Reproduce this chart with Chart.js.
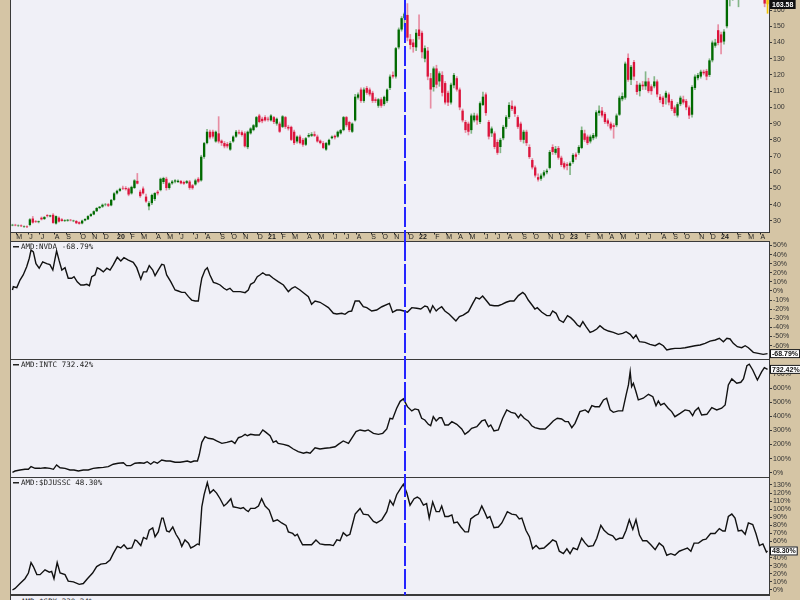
<!DOCTYPE html>
<html>
<head>
<meta charset="utf-8">
<title>AMD weekly with ratio panels</title>
<script src="https://cdn.jsdelivr.net/npm/chart.js@4.4.1/dist/chart.umd.min.js"></script>
<style>
  html, body { margin: 0; padding: 0; background: #d5c5a5; overflow: hidden; }
  #wrap { position: relative; width: 800px; height: 600px; }
  .pane { position: absolute; left: 0; width: 800px; }
  .pane canvas { display: block; }
  #spxPane {
    position: absolute; left: 10px; top: 595px; width: 759px; height: 5px;
    background: #f0f0f7; border-top: 1px solid #3a3a3a; border-left: 1px solid #3a3a3a;
    overflow: hidden; font: 7.5px "DejaVu Sans Mono", monospace; color: #222;
  }
  #spxPane span { position: absolute; left: 10px; top: 1px; white-space: nowrap; }
  #spxPane i { position: absolute; left: 2px; top: 5px; width: 6px; height: 2px; background: #222; }
</style>
</head>
<body>
<div id="wrap">
  <div class="pane" style="top:0"><canvas id="priceChart" width="800" height="241"></canvas></div>
  <div class="pane" style="top:241px"><canvas id="nvdaChart" width="800" height="118"></canvas></div>
  <div class="pane" style="top:359px"><canvas id="intcChart" width="800" height="118"></canvas></div>
  <div class="pane" style="top:477px"><canvas id="djChart" width="800" height="118"></canvas></div>
  <div id="spxPane"><i></i><span>AMD:$SPX 230.24%</span></div>
</div>
<script>
// weekly AMD candles, one bar per week starting Monday 22 Apr 2019
const startMonday = new Date(2019, 3, 22);
const monthLetters = ["J", "F", "M", "A", "M", "J", "J", "A", "S", "O", "N", "D"];
const markerWeek = 135;

const opens = [
  27.3, 27.6, 27.0, 27.2, 26.4, 26.6, 27.5, 31.5, 29.8, 29.3,
  32.0, 31.2, 33.6, 32.8, 33.8, 28.4, 32.0, 31.0, 30.0, 30.2,
  30.7, 29.9, 30.0, 29.2, 28.5, 30.3, 31.0, 33.0, 34.0, 36.0,
  38.0, 38.8, 40.0, 40.3, 39.6, 43.0, 47.0, 48.6, 50.4, 50.3,
  50.0, 47.0, 50.3, 54.7, 48.0, 50.0, 45.0, 39.0, 41.0, 43.5,
  48.0, 49.0, 54.0, 56.0, 50.3, 53.2, 54.3, 54.0, 54.6, 54.0,
  53.5, 54.3, 52.0, 52.5, 56.0, 55.0, 69.5, 78.0, 85.0, 85.0,
  79.0, 84.0, 79.5, 78.0, 77.5, 74.0, 79.0, 82.0, 84.6, 84.7,
  84.0, 75.5, 84.0, 86.0, 88.0, 95.0, 93.0, 94.0, 93.0, 92.0,
  94.0, 90.0, 90.0, 88.0, 94.0, 88.0, 88.0, 85.0, 79.0, 82.0,
  80.0, 77.0, 82.0, 82.5, 83.5, 82.0, 79.5, 78.0, 74.0, 77.0,
  81.0, 82.5, 82.0, 84.0, 86.0, 94.0, 91.0, 85.0, 92.0, 106.0,
  111, 104, 112, 111, 109, 105, 101, 105, 102, 104,
  112, 120, 119, 137, 148, 155, 157, 142, 140, 137,
  148, 146, 130, 135, 118, 112.5, 124, 116, 120, 115,
  109, 103, 113.6, 118, 111, 98, 91, 90, 86, 92,
  95, 91, 101.5, 108, 91, 84, 84, 78.7, 75.6, 81,
  88, 94, 101, 100.5, 94, 90, 80, 85, 75.6, 67.6,
  63, 57, 56, 58, 60, 62.7, 75.6, 72, 75, 69,
  65.6, 65, 64, 66.3, 71, 72, 75, 84, 82, 79,
  81, 82, 96.5, 98, 96, 92, 90, 89, 89, 95.5,
  105, 106, 130.5, 117, 128, 114, 110, 114, 113, 116,
  113, 113, 116, 106.6, 106, 106, 108, 104, 100, 95,
  102, 105, 104, 100, 95.5, 112, 118, 119, 122, 122.5,
  120, 129, 138, 147.6, 145, 140.6, 150, 172, 177, 179,
  170, 173, 176, 202, 211, 190, 178, 180, 175, 172,
  167
];
const highs = [
  28.0, 28.0, 27.6, 27.6, 27.0, 27.0, 31.5, 32.8, 30.3, 30.0,
  32.5, 32.8, 34.0, 33.6, 34.5, 33.2, 32.6, 31.5, 30.8, 31.0,
  31.0, 30.5, 30.3, 29.5, 30.5, 31.5, 33.3, 34.5, 36.3, 38.3,
  39.0, 40.5, 40.8, 40.8, 43.3, 47.5, 49.0, 50.2, 51.5, 51.2,
  50.5, 51.5, 55.5, 59.3, 49.0, 51.0, 46.5, 42.0, 46.5, 47.5,
  48.8, 56.5, 57.0, 57.0, 53.6, 55.0, 55.5, 55.4, 55.0, 54.6,
  55.0, 55.0, 52.6, 55.8, 56.8, 70.5, 78.5, 86.5, 86.0, 86.0,
  85.5, 94.3, 80.0, 79.0, 78.5, 79.0, 82.5, 85.8, 86.0, 85.5,
  85.0, 85.5, 87.5, 89.5, 94.5, 95.8, 94.0, 95.0, 94.0, 95.5,
  94.5, 93.5, 91.0, 95.0, 94.5, 89.0, 88.5, 86.0, 82.5, 83.0,
  81.0, 81.5, 84.0, 84.5, 85.0, 83.0, 80.0, 79.0, 78.5, 80.5,
  82.5, 83.0, 85.5, 86.5, 94.5, 94.5, 91.5, 90.5, 108, 109,
  112, 112, 113, 112, 110, 106, 105.5, 106, 107, 111.5,
  120, 122, 137, 149, 156, 158.5, 164, 145, 142, 148,
  157, 147, 138, 137, 121, 125, 126, 122, 122, 116,
  110, 115, 121, 119, 112, 99, 92, 91, 96, 96.5,
  96, 103.5, 109.5, 109, 92, 88, 85, 80, 81, 89,
  95, 103, 104, 101, 95, 91, 86, 86, 77, 68.5,
  64, 59, 59, 61, 62, 73.5, 77, 76, 76, 70,
  66.5, 66, 66.5, 71.5, 72, 76.5, 88, 86, 83, 83,
  84, 98, 101, 100, 97, 93, 91, 90, 96, 107,
  109, 128, 133, 126, 129, 116, 115, 116, 122, 118,
  114, 119, 117, 108, 107, 110, 109, 105, 101, 103,
  107, 107, 105, 101, 113.5, 120, 121, 123, 123, 123.5,
  130, 141, 142, 151, 146.5, 148, 174, 178, 181, 180,
  175, 178, 205, 217, 213, 192, 184, 182, 178, 174,
  169
];
const lows = [
  27.0, 27.0, 26.6, 26.5, 26.0, 25.8, 27.0, 28.6, 29.0, 28.8,
  30.6, 30.8, 32.4, 32.5, 28.5, 28.0, 29.2, 29.8, 29.6, 29.8,
  30.0, 29.5, 28.3, 28.0, 28.2, 30.0, 30.8, 32.8, 33.8, 35.8,
  37.5, 38.3, 39.3, 38.8, 39.3, 42.6, 46.5, 48.2, 49.3, 49.0,
  45.5, 46.5, 50.0, 52.8, 44.5, 46.5, 41.5, 36.8, 40.0, 42.5,
  46.0, 48.5, 53.0, 49.0, 49.5, 52.6, 53.5, 53.6, 52.8, 52.5,
  53.0, 49.5, 49.5, 52.0, 53.5, 54.5, 68.5, 77.5, 80.5, 81.0,
  78.5, 78.0, 76.5, 75.0, 75.0, 73.5, 78.5, 81.5, 83.5, 82.3,
  75.5, 74.5, 83.5, 85.5, 87.5, 90.5, 90.5, 91.5, 91.5, 91.5,
  90.0, 89.0, 84.5, 87.5, 87.0, 86.0, 79.5, 77.0, 78.0, 77.5,
  76.0, 76.5, 81.5, 82.0, 82.0, 78.5, 77.5, 74.5, 73.5, 76.5,
  80.5, 80.5, 81.5, 83.5, 85.5, 88.0, 85.0, 84.5, 91.5, 105,
  103, 103, 108, 107, 103, 103, 100, 100, 101, 103,
  111, 118, 118, 136, 147, 150, 141, 136, 134, 135,
  142, 130.5, 128, 117, 99.5, 110, 112, 113, 107, 102,
  101, 102, 112, 110, 98.5, 91, 84.5, 83, 84, 91,
  89.5, 90, 101, 95, 80.5, 82, 74.5, 71, 72, 80,
  87, 93, 98, 94.5, 87, 79, 78, 76.5, 68.5, 62,
  57, 54.5, 55, 57, 59, 62, 71, 71, 68, 63.5,
  62, 61.5, 58.5, 65.5, 68, 71, 74.5, 79, 77, 78,
  80, 81, 95, 94, 90, 88.5, 86, 81, 88, 95,
  104, 105, 116, 114, 117, 108, 107, 111, 111, 109,
  108, 112, 106.5, 103, 100.5, 102, 101.5, 98, 95, 94,
  101, 102, 98.5, 93, 94, 111, 117, 118, 120, 117,
  119, 128, 137, 138.5, 133, 139, 149, 162.5, 166, 167,
  162, 168, 172, 196, 185, 172, 176, 167.5, 166.5, 162,
  158
];
const closes = [
  27.6, 27.3, 27.2, 26.8, 26.7, 26.2, 31.0, 29.0, 29.4, 29.8,
  31.0, 32.4, 33.0, 33.4, 28.8, 33.0, 29.6, 30.0, 30.4, 30.7,
  30.4, 30.2, 28.6, 28.3, 30.2, 31.2, 33.0, 34.2, 36.0, 38.0,
  38.8, 40.0, 40.2, 39.4, 43.0, 47.0, 48.6, 49.8, 50.0, 49.6,
  46.3, 51.0, 55.0, 53.0, 45.3, 47.0, 42.0, 41.0, 46.0, 47.2,
  47.0, 56.0, 56.5, 50.3, 53.2, 54.3, 55.0, 54.8, 53.2, 53.0,
  54.5, 50.4, 50.2, 55.0, 54.2, 69.6, 78.0, 85.0, 81.5, 82.0,
  85.0, 79.0, 78.0, 76.0, 76.0, 78.0, 82.0, 85.0, 84.0, 83.0,
  76.0, 85.0, 87.0, 89.0, 94.0, 91.0, 91.5, 92.0, 92.5, 95.0,
  91.0, 93.0, 85.0, 94.5, 88.0, 87.0, 80.0, 78.0, 82.0, 78.0,
  77.0, 81.0, 83.0, 83.5, 82.5, 79.0, 78.0, 75.0, 78.0, 80.0,
  82.0, 81.5, 85.0, 86.0, 94.0, 89.0, 86.0, 90.0, 106.6, 108,
  104, 111, 109, 108, 104, 104, 105, 101, 106.5, 111,
  119, 119, 136.5, 148, 155, 157.8, 143, 138.5, 137.2, 146,
  144, 134, 136.5, 119, 111, 124, 114, 121, 109, 103,
  103, 114, 120, 111, 100, 92, 86, 85, 95, 95,
  92, 102.6, 106.6, 96.5, 82, 87, 75.6, 72, 80, 88,
  94, 101.5, 99, 96, 88, 80, 85, 78, 69.4, 63,
  58, 55.5, 58, 60, 61, 72.5, 72.5, 74.5, 69, 64.5,
  63, 64, 65.6, 70.7, 69.6, 75.6, 86, 80, 78, 82,
  83, 97, 98, 95, 91, 90, 87, 88, 95, 106,
  107, 127, 117, 125, 119, 109.5, 114, 113, 116, 110,
  110, 116, 108, 104.6, 102, 109, 103, 99, 96.5, 102,
  106, 103, 100, 95, 112.6, 119, 120, 122, 121, 119,
  129, 140, 140, 139.7, 140, 146.7, 172, 177, 179, 171,
  173, 176, 202, 211, 191, 178, 180, 172, 169, 164,
  163.58
];

// relative performance lines, [week, % change]
const nvdaRatio = [
  [0,1.1],[0.3,4.7],[1.5,3.7],[2.6,12],[3.7,17.6],[4.9,26.7],[5.8,36],[6.4,45],[7.2,43],[8.1,30],
  [9.2,25],[10.4,32],[11.8,30],[12.9,29],[13.9,23],[14.7,36],[15.2,44],[16.1,33],[17,23],[18.1,25.6],
  [19.2,14],[20.4,14],[21.2,15.7],[22.3,10],[23.5,6.6],[24.6,6.6],[25.6,7.3],[26.5,5.8],[27.3,15.7],[28.4,17.6],
  [29.2,25.6],[30.1,24],[31.3,21],[32.5,25],[33.6,23],[34.7,28.6],[36.1,37],[37.3,33],[38.4,36.6],[39.9,34],
  [41.6,31.5],[42.8,25.6],[44.2,13],[45.1,21],[46.2,21],[47.1,27.8],[48.3,23],[49.1,16.8],[50.2,23],[51.4,29.3],
  [52.2,28.6],[53.1,17.6],[54.5,10.3],[56,1.1],[57.1,0],[58.3,-1.5],[59.4,-1.5],[60.6,-6.2],[61.7,-10],[62.9,-11],
  [64,-11],[64.6,3],[65.2,14],[66.3,23],[67.1,25.6],[68,17.6],[69.2,9.5],[70.3,8.4],[71.5,6.6],[72.8,3],
  [73.8,1.1],[74.9,3],[76,-0.7],[77.2,-0.7],[78.4,-0.7],[80.1,-1.8],[81.2,1.1],[82,7.3],[83.2,9.5],[84.3,15.7],
  [85.2,17.6],[86.2,20],[87.3,17.6],[88.4,17.6],[89.8,14],[91.5,10.3],[93.3,6.6],[95,-0.7],[96.2,3],[97.3,4.7],
  [99,1.1],[100.4,-2.5],[101.9,-6.3],[103,-14.6],[104.2,-11],[105.9,-12.4],[107,-14.6],[108.8,-18.3],[110.5,-24.5],[111.7,-25.3],
  [113.4,-24.5],[114.5,-25.6],[115.7,-22.7],[116.8,-22],[118,-11],[119.4,-11],[120.8,-17.3],[122,-18.3],[123.7,-22],[125.4,-20.9],
  [127.2,-17.3],[129.8,-13.6],[130.9,-23.4],[132.3,-20.9],[133.5,-20.9],[134.8,-22],[136,-23.4],[137.5,-18.3],[139.2,-19],[140.6,-19.8],
  [142,-16.5],[142.9,-17.3],[143.8,-23.4],[144.7,-16.2],[145.9,-22],[146.6,-19.8],[147.8,-17.3],[148.9,-22],[150.4,-25.6],[151.6,-29.3],
  [152.7,-33],[153.9,-28.2],[155.2,-26.4],[157,-22.7],[158.5,-13.6],[159.6,-7.3],[160.8,-8.8],[161.9,-5.5],[163.3,-11],[164.4,-15.4],
  [165.9,-16.2],[167.3,-16.2],[168.5,-14.6],[170,-12.4],[171.3,-11],[172.7,-11],[174.2,-5.1],[175.7,-1.5],[176.5,-3.7],[177.6,-9.9],
  [179.1,-16.2],[179.9,-19.8],[180.7,-18.3],[182.3,-23.4],[184,-27.1],[185.1,-27.1],[186,-22],[187.2,-24.5],[188.3,-31.9],[189.7,-34.4],
  [191.1,-27.1],[192.2,-29.3],[193.4,-33],[194.5,-37.4],[195.4,-39.2],[196.4,-33.7],[197.5,-39.2],[198.9,-45.4],[200,-44],[201.2,-41.8],
  [202.3,-38.1],[203.7,-41.8],[205.2,-44],[206.9,-45.4],[208.6,-47.6],[210.1,-46.5],[211.3,-44.7],[212.7,-47.6],[213.8,-52],[214.7,-48.4],
  [215.9,-55.7],[217.8,-56.4],[219.5,-58.6],[221.3,-60.1],[222.7,-57.5],[224.1,-60.1],[225.3,-64.8],[226.7,-63.7],[228.1,-63],[229.9,-63],
  [231.6,-62.3],[233.3,-61.2],[235,-60.1],[236.8,-59.3],[238.5,-57.5],[240.2,-55],[242,-53.8],[243.4,-52],[244.8,-55.7],[246,-52],
  [247.1,-52.7],[248.2,-57.5],[249.6,-61.2],[251.1,-62.3],[252.3,-60.1],[253.4,-62.3],[255.1,-67.4],[256.8,-68.5],[258.5,-69.6],[260,-68.79]
];
const intcRatio = [
  [0,3],[0.9,12],[2.6,19],[4.3,24],[5.5,24],[6.4,43],[7.8,31],[9.5,31],[11.2,35],[12.9,31],
  [14.1,24],[15.2,55],[16.4,35],[18.1,31],[19.8,19],[21.2,19],[22.7,12],[24.4,19],[26.1,19],[27.8,31],
  [29.6,35],[31.3,38],[33,43],[34.7,60],[36.4,67],[38.2,71],[39.3,50],[40.7,50],[42.2,67],[43.9,71],
  [45.3,67],[46.4,78],[47.6,60],[48.7,78],[49.9,67],[51.4,90],[52.9,83],[54.3,83],[56,74],[57.7,74],
  [58.8,78],[60.2,83],[61.4,74],[62.5,83],[63.7,83],[64.3,125],[65.2,215],[66.3,255],[67.4,244],[69,239],
  [70.3,225],[72.1,208],[73.8,215],[75.5,225],[76.6,208],[77.8,248],[78.9,255],[80.1,272],[80.9,262],[82,272],
  [83.5,267],[85,267],[86.2,303],[87.3,286],[88.7,262],[89.8,215],[90.8,225],[91.5,208],[93.3,201],[95,191],
  [96.7,168],[98.4,149],[100.2,138],[101.3,145],[102.5,138],[104.2,177],[105.9,168],[107.6,173],[109.3,177],[111.1,184],
  [112.2,201],[113.9,225],[115.7,208],[116.8,244],[118.3,291],[119.7,303],[121.4,296],[122.5,303],[124.3,279],[126,272],
  [127.5,279],[128.9,310],[130,386],[130.9,381],[132.3,457],[133.5,506],[134.6,523],[136,468],[137.5,438],[138.6,452],
  [139.8,445],[140.9,386],[142,374],[143.2,343],[144,333],[144.9,397],[145.9,367],[147,390],[147.8,390],[148.9,338],
  [150.1,338],[151.3,362],[153,343],[154.7,310],[155.8,272],[157,291],[158.1,315],[159.9,326],[161.6,367],[162.7,374],
  [163.9,326],[164.7,338],[165.8,296],[167.3,303],[168.8,386],[170.2,445],[171.7,428],[173.1,421],[174.2,390],[175,414],
  [176.2,386],[177.6,367],[178.8,333],[179.9,319],[181.7,310],[183.4,310],[184.9,338],[186.2,367],[187.6,386],[189.1,381],
  [190.3,362],[191.4,362],[192.6,319],[193.7,350],[195.4,433],[197.2,445],[198.3,428],[199.5,475],[200.6,468],[202.1,468],
  [203.5,516],[204.6,528],[205.8,445],[206.9,428],[208.6,438],[210.1,438],[211.3,551],[212.1,622],[212.7,716],[213.2,610],
  [213.8,634],[214.7,574],[215.5,516],[217.2,528],[219,556],[220.5,539],[221.6,475],[222.4,508],[223.2,480],[224.4,492],
  [225.8,457],[227,433],[228.1,397],[229.9,421],[231.6,445],[233.1,438],[234.2,404],[235,438],[236.2,461],[237.3,409],
  [239.1,414],[240.8,461],[242.5,445],[244.2,457],[245.4,480],[246.5,622],[247.7,665],[249.4,634],[250.8,641],[251.7,665],
  [252.9,759],[253.7,769],[254.9,728],[256.5,657],[258,716],[258.9,745],[260,732.42]
];
const djusscRatio = [
  [0,0],[0.9,2],[2.6,8],[4.3,14],[5.5,21],[6.4,34],[7.2,29],[8.4,19],[9.5,19],[11.2,25],
  [12.7,22],[13.5,23],[14.3,14],[15.4,34],[16.4,21],[18.1,19],[19.2,11],[21,10],[23,7],[24.4,8],
  [25.8,14],[27.6,21],[29,29],[30.4,32],[32.2,33],[33.6,37],[34.7,45],[36.1,54],[37.3,52],[38.4,56],
  [39.5,51],[41.1,52],[42.2,62],[42.8,61],[44.2,55],[45.1,65],[46.2,63],[47.1,74],[48.3,77],[49.1,66],
  [50.2,72],[51.4,89],[51.9,89],[53.1,73],[54,72],[55.2,78],[56.3,69],[57.5,62],[58.3,54],[59.4,62],
  [60.6,58],[61.4,52],[62.5,54],[63.7,57],[64.3,56],[65.2,103],[66,118],[67.1,133],[68,120],[69.2,124],
  [70.3,120],[71.5,113],[72.8,104],[73.8,107],[75.2,113],[76,103],[77.4,102],[78.6,101],[79.5,102],[80.4,99],
  [81.2,97],[82,101],[83.5,101],[84.7,104],[85.8,113],[87,104],[88.4,99],[89.8,85],[91.2,87],[92.7,83],
  [94.2,80],[95,72],[96.5,70],[97.3,67],[98.1,69],[99,62],[99.9,56],[101.3,56],[103,56],[104.5,62],
  [105.9,57],[107.6,56],[109.3,56],[110.5,55],[111.7,62],[112.8,61],[113.9,71],[115.1,67],[116.2,69],[118,94],
  [119.7,101],[120.8,94],[122.5,93],[124.3,85],[125.4,83],[127.2,87],[128.9,97],[130,111],[131.1,105],[132.3,118],
  [133.5,125],[134.6,131],[135.8,120],[136.9,105],[138.3,113],[139.4,115],[140.3,113],[141.5,105],[142.6,107],[143.5,89],
  [144.7,109],[145.9,97],[147,97],[147.8,104],[148.9,91],[150.1,91],[151.3,93],[152,83],[153.2,84],[154.4,78],
  [155.8,72],[157,72],[157.8,88],[159.3,92],[160.4,94],[161.6,104],[162.4,98],[163.5,89],[164.4,91],[165.8,77],
  [167.3,78],[168.5,83],[169.6,91],[170.4,97],[171.9,94],[173.4,93],[174.5,88],[175.4,89],[176.8,74],[178,66],
  [179.1,51],[180.3,55],[181.4,51],[183,52],[184.9,58],[186,62],[187.2,60],[188.3,48],[189.7,45],[190.9,51],
  [192,45],[193.1,52],[194.5,50],[196,64],[197.2,58],[198.3,54],[200,55],[201.2,64],[202.6,80],[203.7,74],
  [205.2,69],[206.7,67],[207.8,62],[209,64],[210.1,64],[211.3,74],[212.4,87],[213.6,75],[214.7,87],[215.9,68],
  [217,61],[218.4,61],[219.8,56],[221.3,50],[222.7,58],[224.1,54],[225.3,43],[226.7,45],[228.1,43],[229.6,48],
  [231,50],[232.4,52],[233.6,48],[234.7,58],[236.2,58],[237.7,62],[238.8,63],[240.4,70],[241.9,70],[243.4,76],
  [244.6,73],[245.4,73],[246.5,91],[247.7,94],[248.8,89],[249.9,73],[251.1,74],[252.3,69],[253.4,83],[254.9,81],
  [256,70],[257.2,55],[258.4,57],[259.6,47],[260,48.3]
];

// axis tick values
const priceTicks = [30, 40, 50, 60, 70, 80, 90, 100, 110, 120, 130, 140, 150, 160];
const nvdaTicks = [-60, -50, -40, -30, -20, -10, 0, 10, 20, 30, 40, 50];
const intcTicks = [0, 100, 200, 300, 400, 500, 600, 700];
const djusscTicks = [0, 10, 20, 30, 40, 50, 60, 70, 80, 90, 100, 110, 120, 130];

const TAN = "#d5c5a5";
const PLOT_BG = "#f0f0f7";
const EDGE = "#3a3a3a";
const UP = "#006a00";
const DOWN = "#dc143c";
const UP_WICK = "rgba(0, 110, 0, 0.45)";
const DOWN_WICK = "rgba(220, 20, 60, 0.45)";
const LAST = "#f2c200";

function weekDate(i) {
    const d = new Date(startMonday);
    d.setDate(d.getDate() + 7 * i);
    return d;
}

function monthMarks() {
    const marks = [];
    let prev = weekDate(0).getMonth();
    for (let i = 1; i < closes.length; i++) {
        const d = weekDate(i);
        const m = d.getMonth();
        if (m !== prev) {
            marks.push({
                i: i,
                label: m === 0 ? String(d.getFullYear()).slice(2) : monthLetters[m],
                year: m === 0
            });
            prev = m;
        }
    }
    return marks;
}

const xAxis = {type: "linear", offset: false, min: -0.5, max: closes.length - 0.5, display: false};

function rightAxis(min, max, tickValues, fmt) {
    return {
        position: "right",
        min: min,
        max: max,
        afterBuildTicks: function (s) {
            s.ticks = tickValues.map(v => ({value: v}));
        },
        afterFit: function (s) {
            s.width = 31;
            s.paddingTop = 0;
            s.paddingBottom = 0;
        },
        grid: {drawOnChartArea: false, tickLength: 3, color: EDGE},
        border: {color: EDGE, dash: [1, 1]},
        ticks: {
            color: "#333",
            padding: 1,
            autoSkip: false,
            font: {family: "'Liberation Sans', Arial", size: 7},
            callback: v => fmt(v)
        }
    };
}

// frame, label, marker line and last-value tag
const panelDecor = {
    id: "panelDecor",
    beforeDraw(chart) {
        const {ctx, chartArea: a} = chart;
        ctx.save();
        ctx.fillStyle = PLOT_BG;
        ctx.fillRect(a.left, a.top, a.right - a.left, a.bottom - a.top);
        ctx.restore();
    },
    afterDraw(chart, args, opts) {
        const {ctx, chartArea: a} = chart;
        const x = chart.scales.x;
        const y = chart.scales.y;
        ctx.save();

        ctx.strokeStyle = EDGE;
        ctx.lineWidth = 1;
        ctx.beginPath();
        ctx.moveTo(a.left - 0.5, 0);
        ctx.lineTo(a.left - 0.5, chart.height);
        if (opts.topLine) {
            ctx.moveTo(a.left, a.top + 0.5);
            ctx.lineTo(a.right, a.top + 0.5);
        }
        if (opts.bottomLine) {
            ctx.moveTo(a.left, a.bottom - 0.5);
            ctx.lineTo(a.right, a.bottom - 0.5);
        }
        ctx.stroke();

        if (opts.dateStrip) {
            const top = a.bottom;
            const h = chart.height - a.bottom;
            ctx.fillStyle = TAN;
            ctx.fillRect(a.left, top, a.right - a.left, h);
            ctx.strokeStyle = EDGE;
            ctx.beginPath();
            ctx.moveTo(a.left, top + 0.5);
            ctx.lineTo(a.right, top + 0.5);
            ctx.stroke();
            ctx.fillStyle = "#222";
            ctx.textAlign = "center";
            ctx.textBaseline = "middle";
            monthMarks().forEach(function (mk) {
                const px = x.getPixelForValue(mk.i);
                ctx.fillRect(Math.round(px) - 2, top + 1, 1, 1.5);
                ctx.font = (mk.year ? "bold " : "") + "7px 'Liberation Sans', Arial";
                ctx.fillText(mk.label, px + 1, top + h / 2 + 0.5);
            });
        }

        if (opts.label) {
            ctx.fillStyle = "#222";
            ctx.fillRect(a.left + 2, a.top + 5, 6, 1.5);
            ctx.font = "7.5px 'DejaVu Sans Mono', monospace";
            ctx.textAlign = "left";
            ctx.textBaseline = "middle";
            ctx.fillText(opts.label, a.left + 10, a.top + 6);
        }

        const mx = Math.round(x.getPixelForValue(markerWeek));
        ctx.strokeStyle = "#2424ff";
        ctx.lineWidth = 2;
        ctx.setLineDash([20, 3]);
        ctx.beginPath();
        ctx.moveTo(mx, 0);
        ctx.lineTo(mx, chart.height);
        ctx.stroke();
        ctx.setLineDash([]);

        if (opts.tag) {
            const ty = Math.max(4.5, Math.min(chart.height - 4.5, y.getPixelForValue(opts.tag.value)));
            ctx.font = "bold 7px 'Liberation Sans', Arial";
            const w = ctx.measureText(opts.tag.text).width + 4;
            const bx = a.right + 1;
            ctx.fillStyle = opts.tag.dark ? "#111" : "#fff";
            ctx.fillRect(bx, ty - 4.5, w, 9);
            ctx.strokeStyle = "#111";
            ctx.lineWidth = 1;
            ctx.strokeRect(bx + 0.5, ty - 4, w - 1, 8);
            ctx.fillStyle = opts.tag.dark ? "#fff" : "#111";
            ctx.textAlign = "left";
            ctx.textBaseline = "middle";
            ctx.fillText(opts.tag.text, bx + 2, ty + 0.5);
        }
        ctx.restore();
    }
};

function initPriceChart() {
    const n = closes.length;
    const bodies = [];
    const wicks = [];
    const bodyColors = [];
    const wickColors = [];
    for (let i = 0; i < n; i++) {
        bodies.push({x: i, y: [opens[i], closes[i]]});
        wicks.push({x: i, y: [lows[i], highs[i]]});
        const up = closes[i] >= opens[i];
        bodyColors.push(i === n - 1 ? LAST : (up ? UP : DOWN));
        wickColors.push(i === n - 1 ? LAST : (up ? UP_WICK : DOWN_WICK));
    }

    new Chart(document.getElementById("priceChart"), {
        type: "bar",
        data: {
            datasets: [{
                    label: "body",
                    data: bodies,
                    backgroundColor: bodyColors,
                    grouped: false,
                    barPercentage: 0.8,
                    categoryPercentage: 1,
                    borderWidth: 0,
                    clip: 0,
                    order: 1
                }, {
                    label: "wick",
                    data: wicks,
                    backgroundColor: wickColors,
                    grouped: false,
                    barThickness: 1,
                    borderWidth: 0,
                    clip: 0,
                    order: 2
                }]
        },
        options: {
            responsive: false,
            animation: false,
            layout: {padding: {left: 11, right: 0, top: 0, bottom: 9}},
            plugins: {
                legend: {display: false},
                tooltip: {enabled: false},
                panelDecor: {
                    dateStrip: true,
                    tag: {value: closes[n - 1], text: closes[n - 1].toFixed(2), dark: true}
                }
            },
            scales: {
                x: xAxis,
                y: rightAxis(23.2, 166.2, priceTicks, v => String(v))
            }
        },
        plugins: [panelDecor]
    });
}

function initRatioChart(id, pairs, min, max, tickValues, label, last, extra) {
    const pct = v => v + "%";
    new Chart(document.getElementById(id), {
        type: "line",
        data: {
            datasets: [{
                    label: label,
                    data: pairs.map(p => ({x: p[0], y: p[1]})),
                    borderColor: "#111",
                    borderWidth: 1.4,
                    pointRadius: 0,
                    tension: 0
                }]
        },
        options: {
            responsive: false,
            animation: false,
            layout: {padding: {left: 11, right: 0, top: 0, bottom: 0}},
            plugins: {
                legend: {display: false},
                tooltip: {enabled: false},
                panelDecor: Object.assign({
                    topLine: true,
                    label: label,
                    tag: {value: last, text: last.toFixed(2) + "%", dark: false}
                }, extra || {})
            },
            scales: {
                x: xAxis,
                y: rightAxis(min, max, tickValues, pct)
            }
        },
        plugins: [panelDecor]
    });
}

document.addEventListener("DOMContentLoaded", function () {
    initPriceChart();
    initRatioChart("nvdaChart", nvdaRatio, -74.7, 54.9, nvdaTicks, "AMD:NVDA -68.79%", -68.79);
    initRatioChart("intcChart", intcRatio, -30.5, 806, intcTicks, "AMD:INTC 732.42%", 732.42);
    initRatioChart("djChart", djusscRatio, -6.2, 139.9, djusscTicks, "AMD:$DJUSSC 48.30%", 48.30, {bottomLine: true});
});
</script>
</body>
</html>
